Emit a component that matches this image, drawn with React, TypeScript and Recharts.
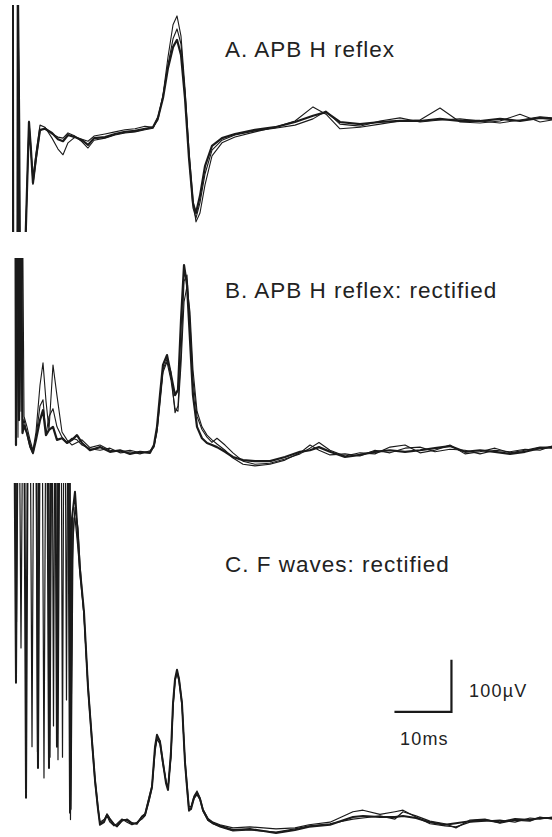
import React from 'react';
import { LineChart, Line, XAxis, YAxis } from 'recharts';

// time in ms, amplitude in µV

// A. APB H reflex (raw)
const timesA = [0.14, 0.21, 0.96, 1.02, 1.26, 1.4, 2.11, 2.98, 3.33, 3.68, 4.21, 4.91, 5.79, 7.02, 8.07, 8.95, 9.82, 11.05, 12.28, 13.33, 14.39, 16.32, 18.07, 19.82, 21.58, 23.33, 24.74, 25.61, 26.49, 27.37, 28.25, 28.95, 29.65, 30.35, 31.05, 31.75, 32.28, 32.98, 33.86, 35.09, 36.84, 39.12, 42.63, 46.14, 49.65, 52.81, 55.09, 57.54, 61.05, 64.56, 68.07, 71.58, 75.09, 78.6, 82.11, 85.61, 89.12, 92.63, 94.74];
const traceA1 = [300, -300, -300, 300, 19, -300, -300, 25, -29, -92, -44, 10, 12, 4, -8, -12, 0, -4, -10, -19, -6, -4, 2, 6, 8, 12, 15, 33, 71, 129, 169, 183, 154, 71, -44, -131, -150, -117, -60, -21, -6, 2, 10, 15, 25, 37, 44, 25, 21, 25, 27, 27, 31, 27, 27, 31, 27, 33, 31];
const traceA2 = [300, -300, -300, 300, 25, -300, -300, 21, -35, -85, -35, 19, 15, -6, -27, -38, -15, -4, -8, -12, -2, 2, 6, 10, 12, 17, 15, 29, 77, 150, 212, 229, 190, 90, -29, -125, -167, -150, -96, -40, -15, -4, 6, 15, 27, 54, 40, 12, 15, 21, 27, 29, 52, 25, 23, 27, 40, 25, 29];
const traceA3 = [300, -300, -300, 300, 15, -300, -300, 27, -25, -95, -50, 8, 14, 2, -4, -6, 4, -2, -13, -25, -10, -6, 0, 4, 6, 10, 13, 35, 75, 135, 185, 204, 175, 80, -38, -140, -160, -130, -75, -29, -10, 0, 8, 13, 19, 31, 46, 21, 17, 27, 33, 25, 29, 31, 27, 23, 29, 35, 33];

// B. APB H reflex: rectified
const timesB = [0.61, 0.7, 0.79, 1.05, 1.23, 1.58, 1.84, 2.11, 2.63, 3.16, 3.68, 4.21, 4.91, 5.44, 5.96, 6.49, 7.19, 7.89, 8.77, 9.65, 10.53, 11.4, 12.28, 13.68, 15.44, 17.19, 18.95, 20.7, 22.46, 24.21, 24.91, 25.44, 25.96, 26.49, 27.19, 27.89, 28.6, 29.12, 29.65, 30.18, 30.7, 31.23, 31.75, 32.46, 33.33, 34.21, 35.09, 35.96, 37.37, 38.77, 40.53, 42.63, 45.26, 47.89, 50.53, 52.28, 53.86, 55.79, 58.42, 61.05, 63.68, 66.32, 68.95, 71.58, 74.21, 76.84, 79.47, 82.11, 84.74, 87.37, 90.0, 92.63, 94.74];
const traceB1 = [500, 25, 500, 500, 73, 500, 48, 63, 48, 25, 10, 35, 73, 92, 44, 54, 60, 35, 38, 29, 35, 44, 29, 15, 21, 12, 15, 8, 12, 10, 25, 60, 121, 179, 198, 160, 121, 131, 265, 371, 333, 227, 121, 60, 38, 29, 25, 21, 12, 2, -4, -6, -6, 2, 12, 15, 21, 12, 2, 6, 12, 15, 12, 15, 19, 23, 12, 15, 12, 8, 12, 19, 21];
const traceB2 = [500, 500, 500, 500, 500, 90, 500, 80, 60, 35, 15, 50, 140, 183, 110, 54, 179, 120, 50, 35, 25, 30, 35, 20, 25, 15, 12, 15, 10, 12, 21, 55, 115, 170, 190, 165, 87, 100, 200, 340, 352, 260, 150, 80, 55, 40, 30, 38, 25, 10, -6, -12, -10, -2, 8, 19, 30, 15, 4, 10, 8, 21, 25, 10, 15, 25, 8, 12, 19, 10, 15, 21, 19];
const traceB3 = [500, 500, 500, 40, 500, 500, 60, 75, 45, 20, 8, 40, 100, 112, 45, 80, 95, 60, 40, 30, 38, 35, 25, 18, 15, 19, 10, 12, 8, 14, 23, 50, 105, 165, 185, 150, 95, 90, 180, 300, 330, 280, 170, 90, 60, 44, 35, 27, 15, 0, -12, -15, -12, -4, 10, 25, 15, 6, 8, 4, 15, 10, 19, 21, 12, 17, 15, 8, 15, 12, 17, 15, 23];

// C. F waves: rectified (stimulus spikes, then common tail)
const spikeTimesC1 = [0.35, 0.7, 1.05, 2.11, 2.46, 2.81, 4.21, 4.56, 4.91, 6.14, 6.49, 6.84, 7.54, 7.89, 8.25, 9.82, 10.18, 10.53];
const spikeC1 = [900, 283, 900, 900, 62, 900, 900, 119, 900, 900, 119, 900, 900, 160, 900, 900, 33, 600];
const spikeTimesC2 = [1.23, 1.58, 1.93, 3.16, 3.51, 3.86, 5.26, 5.61, 5.96, 7.02, 7.28, 7.54, 8.6, 8.86, 9.12, 9.3, 9.56, 9.82, 10.18, 10.35, 10.7];
const spikeC2 = [900, 350, 900, 900, 160, 900, 900, 100, 900, 900, 200, 900, 900, 140, 900, 900, 250, 900, 900, 40, 560];
const spikeTimesC3 = [0.53, 0.79, 1.05, 4.21, 4.47, 4.74, 6.32, 6.67, 7.02, 7.89, 8.07, 8.42, 9.98, 10.26, 10.61, 10.88];
const spikeC3 = [900, 400, 900, 900, 150, 900, 900, 140, 900, 900, 135, 900, 900, 20, 520, 600];
const tailTimesC = [11.05, 11.58, 11.93, 12.63, 13.33, 14.04, 14.56, 15.09, 15.44, 16.14, 16.67, 17.19, 17.89, 18.42, 19.3, 20.18, 21.05, 21.93, 22.81, 23.33, 24.04, 24.56, 25.09, 25.44, 25.96, 26.49, 27.02, 27.37, 27.89, 28.25, 28.6, 28.95, 29.3, 29.82, 30.35, 30.7, 31.05, 31.4, 31.93, 32.46, 32.98, 33.51, 34.39, 35.26, 36.49, 38.77, 41.75, 46.32, 49.65, 52.11, 55.79, 59.82, 61.58, 64.56, 67.19, 68.6, 70.88, 73.33, 75.96, 77.89, 80.35, 82.98, 85.61, 88.25, 90.88, 92.63, 94.74];
const tailC1 = [650, 560, 500, 420, 275, 170, 96, 40, 10, 15, 29, 20, 10, 8, 19, 19, 12, 13, 25, 29, 60, 83, 160, 183, 170, 129, 90, 77, 150, 244, 290, 308, 290, 244, 130, 83, 38, 40, 62, 71, 60, 38, 20, 13, 8, 0, 2, -6, 0, 6, 10, 25, 27, 25, 25, 27, 23, 15, 10, 13, 17, 19, 15, 21, 19, 23, 23];
const tailC2 = [620, 580, 510, 410, 280, 175, 100, 45, 15, 20, 27, 15, 8, 12, 21, 15, 10, 15, 21, 27, 55, 80, 150, 175, 165, 125, 95, 80, 140, 235, 285, 302, 285, 240, 135, 90, 45, 45, 65, 75, 62, 40, 22, 15, 10, 4, 6, 2, 4, 10, 15, 35, 38, 30, 35, 38, 25, 12, 8, 6, 15, 17, 19, 15, 23, 21, 25];
const tailC3 = [600, 540, 490, 415, 270, 165, 92, 38, 12, 18, 31, 22, 12, 6, 17, 21, 14, 11, 27, 31, 62, 85, 155, 180, 172, 132, 92, 79, 145, 240, 288, 305, 292, 246, 128, 80, 36, 42, 60, 68, 58, 36, 18, 12, 6, -2, 0, -4, 2, 8, 12, 21, 23, 27, 21, 35, 27, 17, 12, 4, 19, 21, 13, 19, 17, 25, 21];

// calibration: 10 ms x 100 µV
const scaleBarTimes = [67.1, 77.1, 77.1];
const scaleBarValues = [227, 227, 327];

const T_MAX = 94.74;
const INK = '#1a1a1a';
const FONT = '"Liberation Sans", Arial, Helvetica, sans-serif';

type Pt = { t: number; v: number };
const zip = (ts: number[], vs: number[]): Pt[] => ts.map((t, i) => ({ t, v: vs[i] }));

type Trace = { data: Pt[]; width: number };

function Panel({ top, height, domain, traces, bar }: {
  top: number; height: number; domain: [number, number]; traces: Trace[]; bar?: Pt[];
}) {
  return (
    <div style={{ position: 'absolute', left: 0, top }}>
      <LineChart width={552} height={height} margin={{ top: 0, right: 0, bottom: 0, left: 12 }}>
        <XAxis dataKey="t" type="number" domain={[0, T_MAX]} hide allowDataOverflow />
        <YAxis type="number" domain={domain} hide allowDataOverflow />
        {traces.map((tr, i) => (
          <Line
            key={i}
            data={tr.data}
            dataKey="v"
            type="linear"
            stroke={INK}
            strokeWidth={tr.width}
            strokeLinejoin="round"
            dot={false}
            activeDot={false}
            isAnimationActive={false}
          />
        ))}
        {bar && (
          <Line data={bar} dataKey="v" type="linear" stroke={INK} strokeWidth={2.2}
            dot={false} activeDot={false} isAnimationActive={false} />
        )}
      </LineChart>
    </div>
  );
}

export default function App() {
  const tracesA: Trace[] = [
    { data: zip(timesA, traceA2), width: 1.1 },
    { data: zip(timesA, traceA3), width: 1.1 },
    { data: zip(timesA, traceA1), width: 2.2 },
  ];
  const tracesB: Trace[] = [
    { data: zip(timesB, traceB2), width: 1.1 },
    { data: zip(timesB, traceB3), width: 1.1 },
    { data: zip(timesB, traceB1), width: 2.2 },
  ];
  const tracesC: Trace[] = [
    { data: zip([...spikeTimesC2, ...tailTimesC], [...spikeC2, ...tailC2]), width: 1.2 },
    { data: zip([...spikeTimesC3, ...tailTimesC], [...spikeC3, ...tailC3]), width: 1.2 },
    { data: zip([...spikeTimesC1, ...tailTimesC], [...spikeC1, ...tailC1]), width: 2 },
  ];
  const label = { fontFamily: FONT, fontSize: 22.5, letterSpacing: 1, fill: '#222' };
  const small = { fontFamily: FONT, fontSize: 18, letterSpacing: 1.2, fill: '#222' };
  return (
    <div style={{ position: 'absolute', left: 0, top: 0, width: 552, height: 837, background: '#fff', overflow: 'hidden' }}>
      <Panel top={5} height={227} domain={[-186.5, 250]} traces={tracesA} />
      <Panel top={258} height={212} domain={[-23, 384.6]} traces={tracesB} />
      <Panel top={483} height={354} domain={[-13.5, 667]} traces={tracesC} bar={zip(scaleBarTimes, scaleBarValues)} />
      <svg width={552} height={837} style={{ position: 'absolute', left: 0, top: 0, pointerEvents: 'none' }}>
        <text x={225} y={57} {...label}>A. APB H reflex</text>
        <text x={225} y={298} {...label}>B. APB H reflex: rectified</text>
        <text x={225} y={572} {...label}>C. F waves: rectified</text>
        <text x={469} y={697} {...small}>100µV</text>
        <text x={400} y={745} {...small}>10ms</text>
      </svg>
    </div>
  );
}
